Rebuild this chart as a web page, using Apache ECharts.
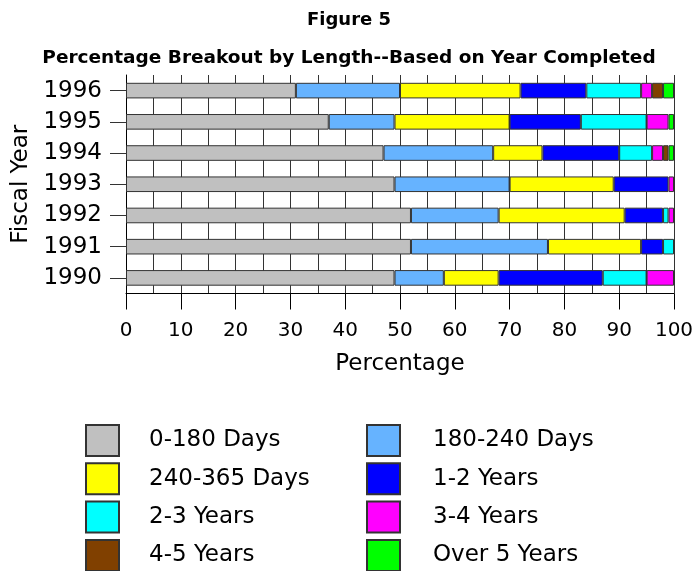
<!DOCTYPE html>
<html>
<head>
<meta charset="utf-8">
<script src="https://cdn.jsdelivr.net/npm/echarts@6/dist/echarts.min.js"></script>
<style>
html,body{margin:0;padding:0;background:#fff;}
#chart{width:698px;height:571px;}
</style>
</head>
<body>
<div id="chart"></div>
<script>
const years = ['1990','1991','1992','1993','1994','1995','1996'];
const seriesNames = ['0-180 Days','180-240 Days','240-365 Days','1-2 Years','2-3 Years','3-4 Years','4-5 Years','Over 5 Years'];
const seriesColors = ['#C0C0C0','#66B3FF','#FFFF00','#0000FF','#00FFFF','#FF00FF','#804000','#00FF00'];
// values per series, ordered 1990..1996
const d0_180   = [49, 52, 52, 49, 47, 37, 31];
const d180_240 = [ 9, 25, 16, 21, 20, 12, 19];
const d240_365 = [10, 17, 23, 19,  9, 21, 22];
const y1_2     = [19,  4,  7, 10, 14, 13, 12];
const y2_3     = [ 8,  2,  1,  0,  6, 12, 10];
const y3_4     = [ 5,  0,  1,  1,  2,  4,  2];
const y4_5     = [ 0,  0,  0,  0,  1,  0,  2];
const over5    = [ 0,  0,  0,  0,  1,  1,  2];
const xTicks = [0,10,20,30,40,50,60,70,80,90,100];

const allValues = [d0_180, d180_240, d240_365, y1_2, y2_3, y3_4, y4_5, over5];
const FONT = 'DejaVu Sans';

const series = seriesNames.map((name, i) => ({
  name: name,
  type: 'bar',
  stack: 'total',
  barWidth: '50%',
  data: allValues[i].map(v => v === 0 ? '-' : v),
  itemStyle: { color: seriesColors[i], borderColor: '#333', borderWidth: 1 },
  emphasis: { disabled: true }
}));

const legendCommon = {
  orient: 'vertical',
  icon: 'rect',
  itemWidth: 33,
  itemHeight: 31,
  itemGap: 5.3,
  padding: 0,
  height: 160,
  selectedMode: false,
  textStyle: { fontFamily: FONT, fontSize: 23, color: '#000' }
};

const chart = echarts.init(document.getElementById('chart'), null, {renderer: 'canvas'});
chart.setOption({
  animation: false,
  backgroundColor: '#fff',
  title: [
    { text: 'Figure 5', left: 'center', top: 11, padding: 0,
      textStyle: { fontFamily: FONT, fontSize: 18, fontWeight: 'bold', color: '#000' } },
    { text: 'Percentage Breakout by Length--Based on Year Completed', left: 'center', top: 49, padding: 0,
      textStyle: { fontFamily: FONT, fontSize: 18.5, fontWeight: 'bold', color: '#000' } }
  ],
  legend: [
    Object.assign({}, legendCommon, {
      left: 85, top: 424,
      data: [seriesNames[0], seriesNames[2], seriesNames[4], seriesNames[6]],
      formatter: n => '{s|}' + n,
      textStyle: Object.assign({}, legendCommon.textStyle, { rich: { s: { width: 25 } } })
    }),
    Object.assign({}, legendCommon, {
      left: 366, top: 424,
      data: [seriesNames[1], seriesNames[3], seriesNames[5], seriesNames[7]],
      formatter: n => '{s|}' + n,
      textStyle: Object.assign({}, legendCommon.textStyle, { rich: { s: { width: 28 } } })
    })
  ],
  grid: { left: 126, right: 24, top: 75, height: 218.5, containLabel: false },
  xAxis: {
    type: 'value',
    min: 0, max: 100, interval: 10,
    name: 'Percentage',
    nameLocation: 'middle',
    nameGap: 59,
    nameTextStyle: { fontFamily: FONT, fontSize: 23, color: '#000' },
    axisLine: { show: true, lineStyle: { color: '#000', width: 1 } },
    axisTick: { show: true, length: 16, lineStyle: { color: '#000' } },
    axisLabel: { fontFamily: FONT, fontSize: 20, color: '#000', margin: 27,
      formatter: v => xTicks.indexOf(v) >= 0 ? String(v) : '' },
    splitLine: { show: true, lineStyle: { color: '#333', width: 1 } },
    minorTick: { show: false, splitNumber: 2 },
    minorSplitLine: { show: true, lineStyle: { color: '#333', width: 1 } }
  },
  yAxis: {
    type: 'category',
    data: years,
    name: 'Fiscal Year',
    nameLocation: 'middle',
    nameGap: 88,
    nameTextStyle: { fontFamily: FONT, fontSize: 23, color: '#000' },
    axisLine: { show: true, lineStyle: { color: '#000', width: 1 } },
    axisTick: { show: true, length: 16, alignWithLabel: true, lineStyle: { color: '#333' } },
    axisLabel: { fontFamily: FONT, fontSize: 23, color: '#000', margin: 24 },
    splitLine: { show: false }
  },
  series: series
});
</script>
</body>
</html>
